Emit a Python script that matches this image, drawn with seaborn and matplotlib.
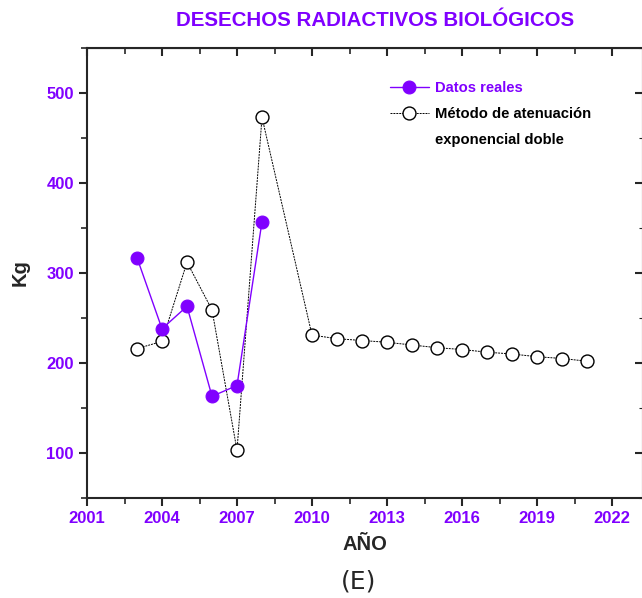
import numpy as np
import pandas as pd
import seaborn as sns
import matplotlib.pyplot as plt
from matplotlib.lines import Line2D
from matplotlib.ticker import MultipleLocator

# datos
anios_reales = [2003, 2004, 2005, 2006, 2007, 2008]
kg_reales = [317, 238, 263, 163, 175, 357]

anios_modelo = [2003, 2004, 2005, 2006, 2007, 2008, 2010, 2011, 2012, 2013,
                2014, 2015, 2016, 2017, 2018, 2019, 2020, 2021]
kg_modelo = [216, 224, 312, 259, 103, 473, 231, 227, 225, 223,
             220, 217, 215, 212, 210, 207, 205, 202]

x_ticks = [2001, 2004, 2007, 2010, 2013, 2016, 2019, 2022]
y_ticks = [100, 200, 300, 400, 500]

PURPLE = "#8000ff"

sns.set_style("ticks")
plt.rcParams["font.family"] = ["Liberation Sans", "DejaVu Sans"]

fig = plt.figure(figsize=(6.42, 5.98), dpi=100)
ax = fig.add_axes([87 / 642, 1 - 498 / 598, (643 - 87) / 642, 450 / 598])

df_real = pd.DataFrame({"anio": anios_reales, "kg": kg_reales})
df_mod = pd.DataFrame({"anio": anios_modelo, "kg": kg_modelo})

sns.lineplot(data=df_mod, x="anio", y="kg", ax=ax, color="black", lw=0.7,
             linestyle=(0, (2, 1)), marker="o", markersize=9.3,
             markerfacecolor="white", markeredgecolor="black",
             markeredgewidth=1.0, label="Método de atenuación")
sns.lineplot(data=df_real, x="anio", y="kg", ax=ax, color=PURPLE, lw=1.0,
             marker="o", markersize=9.3, markerfacecolor=PURPLE,
             markeredgecolor=PURPLE, label="Datos reales")

ax.set_xlim(2001, 2001 + (643 - 87) / 25)
ax.set_ylim(50, 550)
ax.set_xticks(x_ticks)
ax.set_yticks(y_ticks)
ax.xaxis.set_minor_locator(MultipleLocator(1.5))
ax.yaxis.set_minor_locator(MultipleLocator(50))

for s in ["top", "right", "left", "bottom"]:
    ax.spines[s].set_visible(True)
    ax.spines[s].set_linewidth(1.5)

ax.tick_params(axis="both", which="major", direction="out", length=6, width=1.5,
               labelsize=12, labelcolor=PURPLE, top=False, right=False)
ax.tick_params(axis="both", which="minor", direction="out", length=4, width=1.2,
               top=False, right=False)
for lab in ax.get_xticklabels() + ax.get_yticklabels():
    lab.set_fontweight("bold")

# ticks interiores arriba y a la derecha
ax_top = ax.secondary_xaxis("top")
ax_top.set_xticks(x_ticks)
ax_top.xaxis.set_minor_locator(MultipleLocator(1.5))
ax_top.tick_params(which="major", direction="in", length=6, width=1.5, labeltop=False)
ax_top.tick_params(which="minor", direction="in", length=4, width=1.2)
ax_right = ax.secondary_yaxis("right")
ax_right.set_yticks(y_ticks)
ax_right.yaxis.set_minor_locator(MultipleLocator(50))
ax_right.tick_params(which="major", direction="in", length=6, width=1.5, labelright=False)
ax_right.tick_params(which="minor", direction="in", length=3, width=0.8)

ax.set_xlabel("AÑO", fontsize=14.5, fontweight="bold", labelpad=6)
ax.set_ylabel("Kg", fontsize=14.5, fontweight="bold", labelpad=12)

fig.text(375 / 642, 1 - 20 / 598, "DESECHOS RADIACTIVOS BIOLÓGICOS", color=PURPLE,
         fontsize=14.8, fontweight="bold", ha="center", va="center")
fig.text(359 / 642, 1 - 581 / 598, "(E)", fontsize=18, ha="center", va="center",
         family=["DejaVu Sans"])

handles, labels = ax.get_legend_handles_labels()
handles = handles[::-1] + [Line2D([], [], linestyle="none")]
labels = labels[::-1] + ["exponencial doble"]
leg = ax.legend(handles, labels, loc="upper left",
                bbox_to_anchor=(290 / 556, 1 - 20 / 450), frameon=False,
                handlelength=2.6, handletextpad=0.45, labelspacing=0.8,
                prop={"weight": "bold", "size": 10.6})
texts = leg.get_texts()
texts[0].set_color(PURPLE)
texts[1].set_color("black")
texts[2].set_color("black")

fig.savefig("out.png", dpi=100)
